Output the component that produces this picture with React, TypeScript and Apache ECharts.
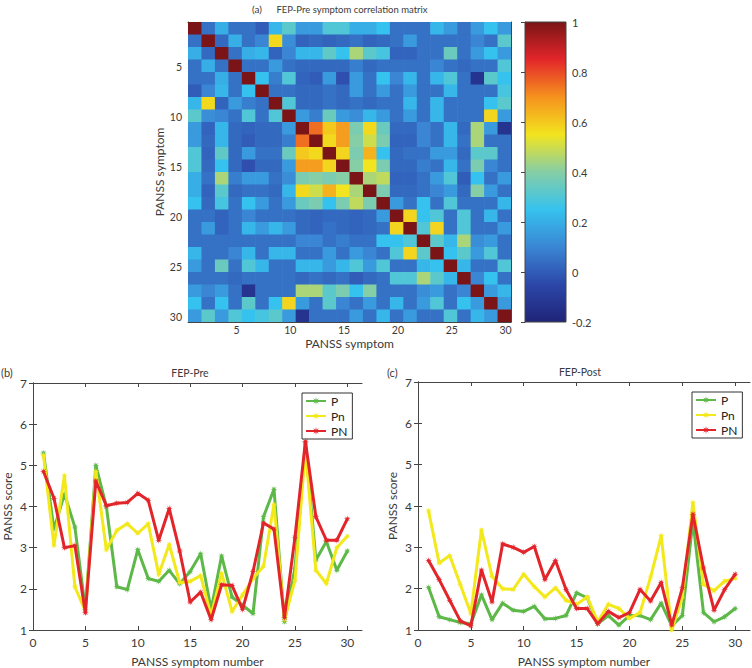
import React, { useEffect, useRef } from 'react';
import * as echarts from 'echarts';

// ---------- data: line charts ----------
const symptomNumbers = [1, 2, 3, 4, 5, 6, 7, 8, 9, 10, 11, 12, 13, 14, 15, 16, 17, 18, 19, 20, 21, 22, 23, 24, 25, 26, 27, 28, 29, 30];

const prePGroup = [5.3, 3.45, 4.3, 3.5, 1.5, 5.0, 4.0, 2.05, 1.98, 2.95, 2.25, 2.18, 2.45, 2.12, 2.42, 2.85, 1.5, 2.8, 1.8, 1.6, 1.4, 3.75, 4.42, 1.2, 2.5, 5.55, 2.7, 3.15, 2.45, 2.92];
const prePnGroup = [5.25, 3.05, 4.75, 2.05, 1.45, 4.85, 2.95, 3.42, 3.58, 3.35, 3.58, 2.35, 3.08, 2.15, 2.18, 2.32, 1.35, 2.38, 1.45, 1.85, 2.25, 2.55, 4.05, 1.25, 2.2, 5.4, 2.45, 2.13, 3.0, 3.28];
const prePNGroup = [4.85, 4.2, 3.0, 3.05, 1.42, 4.62, 4.02, 4.08, 4.1, 4.32, 4.15, 3.18, 3.95, 2.92, 1.68, 1.92, 1.25, 2.1, 2.08, 1.5, 2.42, 3.6, 3.45, 1.3, 3.25, 5.58, 3.75, 3.18, 3.18, 3.7];

const postPGroup = [2.03, 1.32, 1.25, 1.18, 1.15, 1.85, 1.25, 1.65, 1.48, 1.45, 1.57, 1.27, 1.28, 1.35, 1.9, 1.78, 1.15, 1.35, 1.12, 1.35, 1.35, 1.25, 1.65, 1.1, 1.35, 3.65, 1.42, 1.2, 1.32, 1.52];
const postPnGroup = [3.88, 2.62, 2.8, 2.1, 1.4, 3.42, 2.3, 2.0, 1.98, 2.35, 2.05, 1.8, 2.02, 1.72, 1.62, 1.8, 1.2, 1.62, 1.52, 1.28, 1.42, 2.28, 3.28, 1.0, 1.8, 4.08, 2.1, 1.95, 2.18, 2.25];
const postPNGroup = [2.68, 2.22, 1.72, 1.22, 1.1, 2.45, 1.68, 3.08, 3.0, 2.88, 3.02, 2.22, 2.68, 1.98, 1.52, 1.52, 1.15, 1.45, 1.3, 1.42, 1.98, 1.7, 2.15, 1.12, 2.02, 3.8, 2.5, 1.48, 1.98, 2.35];

const groupNames = ['P', 'Pn', 'PN'];
const lineXTicks = [0, 5, 10, 15, 20, 25, 30];
const heatTicks = [5, 10, 15, 20, 25, 30];

// ---------- data: correlation matrix (upper triangle, row r holds columns r+1..N) ----------
const corrR01 = [0.05, 0.2, 0.05, 0.05, 0.0, 0.22, 0.32, 0.15, 0.15, 0.3, 0.3, 0.2, 0.2, 0.25, 0.05, 0.05, 0.05, 0.22, 0.15, 0.05, 0.15, 0.25, 0.15];
const corrR02 = [0.03, 0.2, 0.05, 0.1, 0.57, 0.12, 0.02, 0.03, 0.02, 0.03, 0.05, 0.02, 0.03, 0.05, 0.15, 0.05, 0.05, 0.05, 0.05, 0.1, 0.05, 0.32];
const corrR03 = [0.05, 0.2, 0.22, 0.02, 0.1, 0.22, 0.22, 0.33, 0.25, 0.45, 0.32, 0.28, 0.02, 0.02, 0.05, 0.05, 0.35, 0.05, 0.15, 0.25, 0.15];
const corrR04 = [0.05, 0.05, 0.15, 0.05, 0.03, 0.03, 0.03, 0.03, 0.08, 0.03, 0.05, 0.05, 0.05, 0.05, 0.1, 0.05, 0.03, 0.05, 0.05, 0.3];
const corrR05 = [0.25, 0.08, 0.3, 0.02, 0.0, 0.15, -0.03, 0.15, 0.05, 0.25, 0.1, 0.22, 0.05, 0.22, 0.3, 0.05, -0.13, 0.32, 0.25];
const corrR06 = [0.05, 0.05, 0.03, 0.03, 0.05, 0.03, 0.15, 0.05, 0.15, 0.05, 0.15, 0.05, 0.05, 0.22, 0.05, 0.05, 0.05, 0.28];
const corrR07 = [0.3, 0.03, 0.03, 0.05, 0.03, 0.05, 0.03, 0.05, 0.05, 0.22, 0.05, 0.22, 0.05, 0.05, 0.05, 0.25, 0.32];
const corrR08 = [0.15, 0.08, 0.35, 0.15, 0.12, 0.22, 0.15, 0.05, 0.15, 0.05, 0.22, 0.05, 0.05, 0.05, 0.58, 0.15];
const corrR09 = [0.75, 0.6, 0.68, 0.38, 0.57, 0.35, 0.03, 0.03, 0.1, 0.05, 0.22, 0.03, 0.45, 0.15, -0.13];
const corrR10 = [0.57, 0.68, 0.4, 0.5, 0.38, 0.02, 0.02, 0.1, 0.05, 0.22, 0.05, 0.45, 0.05, 0.05];
const corrR11 = [0.58, 0.38, 0.64, 0.25, 0.03, 0.05, 0.05, 0.15, 0.15, 0.03, 0.32, 0.32, 0.05];
const corrR12 = [0.4, 0.55, 0.38, 0.03, 0.03, 0.08, 0.05, 0.22, 0.05, 0.38, 0.1, 0.05];
const corrR13 = [0.45, 0.48, 0.02, 0.02, 0.05, 0.15, 0.3, 0.0, 0.25, 0.05, 0.15];
const corrR14 = [0.38, 0.03, 0.03, 0.05, 0.1, 0.15, 0.03, 0.4, 0.15, 0.05];
const corrR15 = [0.15, 0.05, 0.25, 0.05, 0.3, 0.05, 0.05, 0.05, 0.22];
const corrR16 = [0.58, 0.25, 0.3, 0.05, 0.3, 0.05, 0.22, 0.05];
const corrR17 = [0.3, 0.58, 0.05, 0.3, 0.05, 0.05, 0.15];
const corrR18 = [0.32, 0.22, 0.45, 0.12, 0.15, 0.05];
const corrR19 = [0.25, 0.32, 0.15, 0.3, 0.05];
const corrR20 = [0.22, 0.05, 0.05, 0.3];
const corrR21 = [0.1, 0.25, 0.05];
const corrR22 = [0.15, 0.22];
const corrR23 = [0.15];

// ---------- styling ----------
const jetColors = ['#1f2478', '#2c47a8', '#3a86d4', '#36c2ee', '#86cea6', '#f2e41e', '#f6921e', '#e3262a', '#7a1416'];
const FONT = 'Lato';
const TXT = '#3a3a3a';
const AX = '#444';

const corrUpper = [corrR01, corrR02, corrR03, corrR04, corrR05, corrR06, corrR07, corrR08, corrR09, corrR10, corrR11, corrR12, corrR13, corrR14, corrR15, corrR16, corrR17, corrR18, corrR19, corrR20, corrR21, corrR22, corrR23];
const N = corrUpper.length + 1;
const step = 30 / N;

function buildHeat() {
  const out: number[][] = [];
  for (let r = 0; r < N; r++) {
    for (let c = 0; c < N; c++) {
      let v = 1;
      if (r < c) v = corrUpper[r][c - r - 1];
      else if (r > c) v = corrUpper[c][r - c - 1];
      out.push([0.5 + (c + 0.5) * step, 0.5 + (r + 0.5) * step, v]);
    }
  }
  return out;
}

function starSymbol() {
  const pts: string[] = [];
  for (let i = 0; i < 16; i++) {
    const a = (i * Math.PI) / 8 - Math.PI / 2;
    const rr = i % 2 === 0 ? 10 : 3.6;
    pts.push((10 + rr * Math.cos(a)).toFixed(2) + ',' + (10 + rr * Math.sin(a)).toFixed(2));
  }
  return 'path://M' + pts.join('L') + 'Z';
}

const tickStyle = { inside: true, length: 4, lineStyle: { color: AX, width: 1 } };

function mirrorAxes(gridIndex: number, min: number, max: number, xTicks: number[], yMin: number, yMax: number, yInterval: number | null, yTicks: number[] | null, inverse: boolean, labelSize: number, labelMargin: number, xName: string, yName: string, xGap: number, yGap: number) {
  const xBase: any = {
    type: 'value', gridIndex, min, max, splitLine: { show: false },
    axisLine: { show: true, lineStyle: { color: AX, width: 1 } },
    axisTick: { ...tickStyle, customValues: xTicks },
  };
  const yBase: any = {
    type: 'value', gridIndex, min: yMin, max: yMax, inverse, splitLine: { show: false },
    axisLine: { show: true, lineStyle: { color: AX, width: 1 } },
    axisTick: yTicks ? { ...tickStyle, customValues: yTicks } : { ...tickStyle },
  };
  if (yInterval) yBase.interval = yInterval;
  const xs = [
    { ...xBase, position: 'bottom', name: xName, nameLocation: 'middle', nameGap: xGap,
      nameTextStyle: { fontFamily: FONT, fontSize: 12, color: TXT },
      axisLabel: { customValues: xTicks, fontFamily: FONT, fontSize: labelSize, color: TXT, margin: labelMargin } },
    { ...xBase, position: 'top', axisLabel: { show: false } },
  ];
  const ys = [
    { ...yBase, position: 'left', name: yName, nameLocation: 'middle', nameGap: yGap,
      nameTextStyle: { fontFamily: FONT, fontSize: 12, color: TXT },
      axisLabel: yTicks ? { customValues: yTicks, fontFamily: FONT, fontSize: labelSize, color: TXT, margin: 6 } : { fontFamily: FONT, fontSize: labelSize, color: TXT, margin: 6 } },
    { ...yBase, position: 'right', axisLabel: { show: false } },
  ];
  return { xs, ys };
}

export default function App() {
  const ref = useRef<HTMLDivElement>(null);
  useEffect(() => {
    if (!ref.current) return;
    const chart = echarts.init(ref.current, undefined, { renderer: 'svg' });
    const heat = buildHeat();
    const star = starSymbol();

    const a0 = mirrorAxes(0, 0.5, 30.5, heatTicks, 0.5, 30.5, null, heatTicks, true, 10.5, 2, 'PANSS symptom', 'PANSS symptom', 15, 22);
    const a2 = mirrorAxes(2, 0, 31.4, lineXTicks, 1, 7, 1, null, false, 12, 6, 'PANSS symptom number', 'PANSS score', 25, 20);
    const a3 = mirrorAxes(3, 0, 31.4, lineXTicks, 1, 7, 1, null, false, 12, 6, 'PANSS symptom number', 'PANSS score', 25, 20);

    const cbX = { type: 'value', gridIndex: 1, min: 0, max: 1, show: false };
    const cbY = {
      type: 'value', gridIndex: 1, min: -0.2, max: 1, interval: 0.2, position: 'right', splitLine: { show: false },
      axisLine: { show: true, lineStyle: { color: AX } },
      axisTick: { inside: true, length: 4, lineStyle: { color: AX } },
      axisLabel: { fontFamily: FONT, fontSize: 11, color: TXT, margin: 6, formatter: (v: number) => String(Math.round(v * 10) / 10) },
    };

    const xAxis: any[] = [a0.xs[0], a0.xs[1], cbX, a2.xs[0], a2.xs[1], a3.xs[0], a3.xs[1]];
    const yAxis: any[] = [a0.ys[0], a0.ys[1], cbY, a2.ys[0], a2.ys[1], a3.ys[0], a3.ys[1]];

    const lineColors = ['#5db848', '#f3e81a', '#e2252b'];
    const preSets = [prePGroup, prePnGroup, prePNGroup];
    const postSets = [postPGroup, postPnGroup, postPNGroup];

    const lineSeries = (sets: number[][], xi: number, yi: number) => sets.map((vals, k) => ({
      type: 'line', name: groupNames[k], xAxisIndex: xi, yAxisIndex: yi,
      data: symptomNumbers.map((n, i) => [n, vals[i]]),
      symbol: star, symbolSize: 7, showSymbol: true,
      lineStyle: { color: lineColors[k], width: 3 },
      itemStyle: { color: lineColors[k] },
      z: 2 + k,
    }));

    const stops = jetColors.map((c, i) => ({ offset: i / (jetColors.length - 1), color: c }));

    const legendBase = {
      orient: 'vertical', data: groupNames, itemWidth: 20, itemHeight: 10, itemGap: 3,
      padding: [2, 5, 2, 3], borderColor: '#333', borderWidth: 1, backgroundColor: '#fff',
      textStyle: { fontFamily: FONT, fontSize: 12, color: '#222' }, selectedMode: false,
    };

    const option: any = {
      animation: false,
      backgroundColor: '#ffffff',
      textStyle: { fontFamily: FONT },
      grid: [
        { left: 188, top: 22, width: 323, height: 300 },
        { left: 525, top: 22, width: 41, height: 300 },
        { left: 31, top: 383, width: 331, height: 250 },
        { left: 418, top: 382, width: 332, height: 250 },
      ],
      xAxis, yAxis,
      visualMap: {
        type: 'continuous', show: false, min: -0.2, max: 1, dimension: 2, seriesIndex: 0,
        inRange: { color: jetColors },
      },
      legend: [
        { ...legendBase, left: 302, top: 393 },
        { ...legendBase, left: 692, top: 392 },
      ],
      graphic: [
        { type: 'text', x: 252, y: 9, style: { text: '(a)', fontFamily: FONT, fontSize: 10, fill: TXT, verticalAlign: 'middle' } },
        { type: 'text', x: 352, y: 9, style: { text: 'FEP-Pre symptom correlation matrix', fontFamily: FONT, fontSize: 9.5, fill: TXT, align: 'center', verticalAlign: 'middle' } },
        { type: 'text', x: 1, y: 372, style: { text: '(b)', fontFamily: FONT, fontSize: 11, fill: TXT, verticalAlign: 'middle' } },
        { type: 'text', x: 190, y: 373, style: { text: 'FEP-Pre', fontFamily: FONT, fontSize: 10.5, fill: TXT, align: 'center', verticalAlign: 'middle' } },
        { type: 'text', x: 387, y: 372, style: { text: '(c)', fontFamily: FONT, fontSize: 11, fill: TXT, verticalAlign: 'middle' } },
        { type: 'text', x: 580, y: 372, style: { text: 'FEP-Post', fontFamily: FONT, fontSize: 10.5, fill: TXT, align: 'center', verticalAlign: 'middle' } },
      ],
      series: [
        {
          type: 'custom', xAxisIndex: 0, yAxisIndex: 0, data: heat, clip: true,
          encode: { x: 0, y: 1 },
          renderItem: (params: any, api: any) => {
            const cx = api.value(0), cy = api.value(1);
            const p = api.coord([cx - step / 2, cy - step / 2]);
            const q = api.coord([cx + step / 2, cy + step / 2]);
            return {
              type: 'rect',
              shape: { x: Math.min(p[0], q[0]), y: Math.min(p[1], q[1]), width: Math.abs(q[0] - p[0]) + 0.6, height: Math.abs(q[1] - p[1]) + 0.6 },
              style: { fill: api.visual('color') },
            };
          },
        },
        {
          type: 'custom', xAxisIndex: 2, yAxisIndex: 2, data: [[0, -0.2, 1, 1]], silent: true,
          encode: { x: [0, 2], y: [1, 3] },
          renderItem: (params: any, api: any) => {
            const p = api.coord([api.value(0), api.value(3)]);
            const q = api.coord([api.value(2), api.value(1)]);
            return {
              type: 'rect',
              shape: { x: p[0], y: p[1], width: q[0] - p[0], height: q[1] - p[1] },
              style: { fill: new echarts.graphic.LinearGradient(0, 1, 0, 0, stops), stroke: AX, lineWidth: 1 },
            };
          },
        },
        ...lineSeries(preSets, 3, 3),
        ...lineSeries(postSets, 5, 5),
      ],
    };
    chart.setOption(option);
    return () => chart.dispose();
  }, []);
  return <div ref={ref} style={{ position: 'absolute', left: 0, top: 0, width: 752, height: 668 }} />;
}
